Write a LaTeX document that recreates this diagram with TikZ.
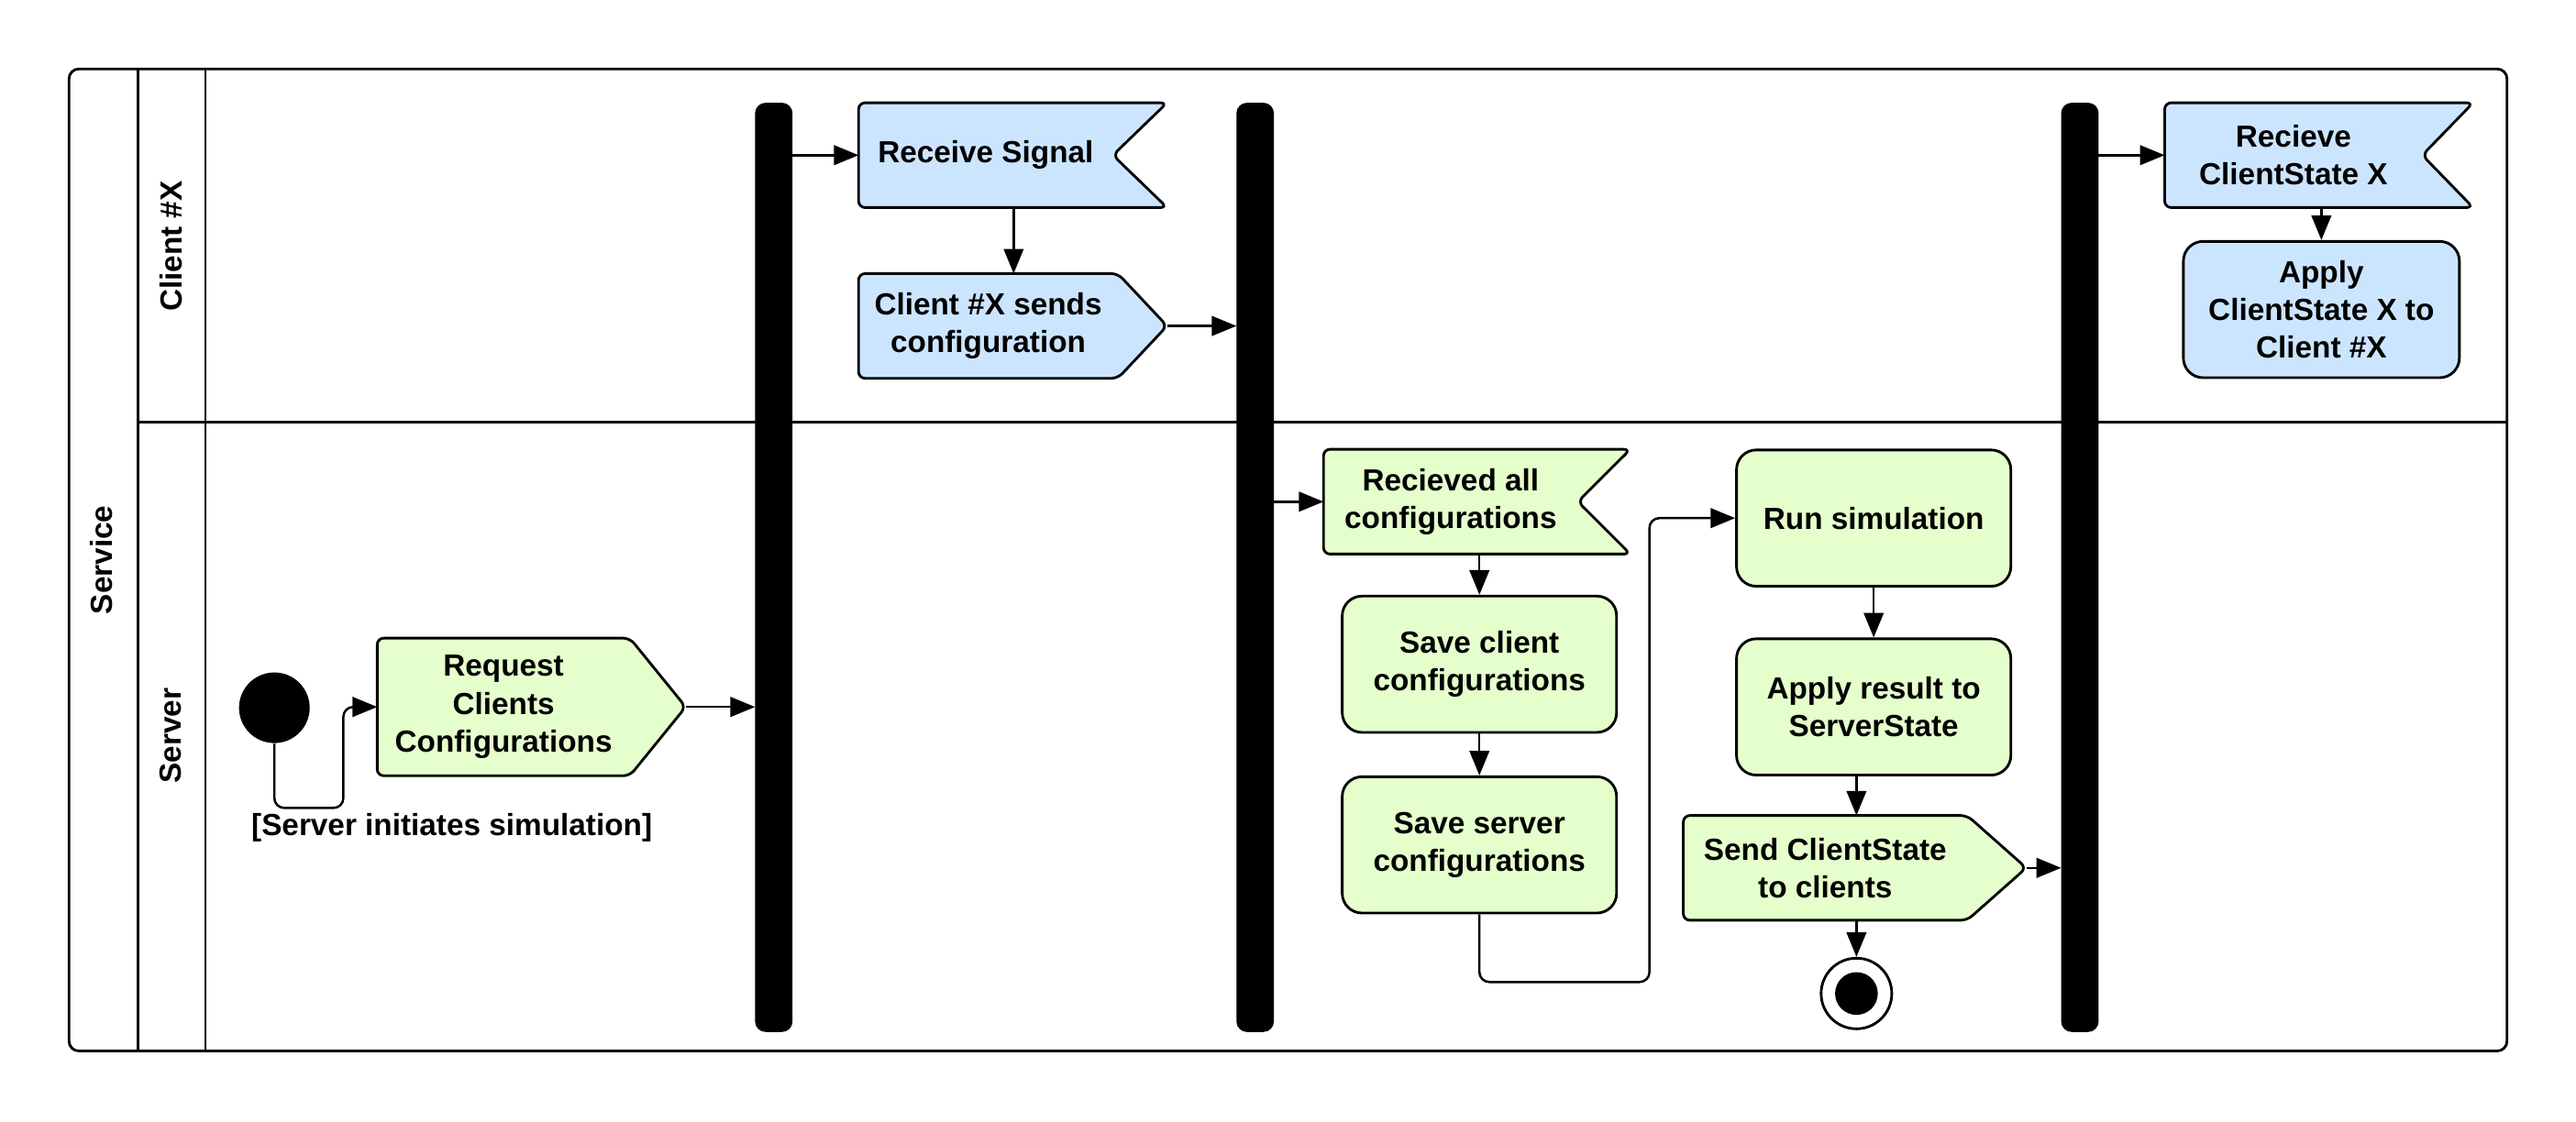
\documentclass[tikz,border=0pt]{standalone}
\usepackage{fontspec}
\setmainfont{Liberation Sans}
\usetikzlibrary{arrows.meta,calc,backgrounds}
\definecolor{cblue}{RGB}{204,229,255}
\definecolor{cgreen}{RGB}{229,255,204}
\begin{document}
\begin{tikzpicture}[x=0.5pt,y=-0.5pt,
  txt/.style={font=\bfseries\fontsize{9.3}{11.5}\selectfont, align=center, inner sep=0pt},
  ln/.style={line width=0.8pt},
  act/.style={txt, draw, ln, rounded corners=6pt, minimum width=#1, minimum height=41.5pt},
  sig/.style={txt, minimum height=31.5pt},
  shp/.style={draw, ln, rounded corners=2pt},
  bar/.style={fill=black, draw=black, rounded corners=3pt, minimum width=11pt, minimum height=282.5pt, inner sep=0pt},
  conn/.style={line width=0.7pt, -{Triangle[length=7.5pt,width=6pt]}, rounded corners=3pt},
  lanelbl/.style={txt, rotate=90}
]
\useasboundingbox (0,0) rectangle (1568,683);

% swimlanes
\draw[ln, rounded corners=3pt] (42,42) rectangle (1526,640);
\draw[ln] (84,42) -- (84,640);
\draw[ln] (125,42) -- (125,640);
\draw[ln] (84,257) -- (1526,257);
\node[lanelbl] (lsvc) at (62,341) {Service};
\node[lanelbl] (lcli) at (104,150) {Client \#X};
\node[lanelbl] (lsrv) at (104,448) {Server};

% bars
\node[bar] (bar1) at (471,345.5) {};
\node[bar] (bar2) at (764,345.5) {};
\node[bar] (bar3) at (1266,345.5) {};

% client lane
\node[sig, minimum width=77pt] (rsig) at (600,94.5) {Receive Signal};
\node[sig, minimum width=78.5pt] (csend) at (601.5,198.5) {Client \#X sends\\configuration};
\coordinate (cstip) at ($(csend.east)+(30,0)$);
\node[sig, minimum width=78pt] (rcs) at (1396,94.5) {Recieve\\ClientState X};
\node[act=84pt, fill=cblue] (acs) at (1413,188.5) {Apply\\ClientState X to\\Client \#X};

% server lane
\node[circle, fill=black, minimum size=21.5pt, inner sep=0pt] (init) at (167,431) {};
\node[txt, minimum width=76.5pt, minimum height=41.5pt] (req) at (306.5,430.5) {Request\\Clients\\Configurations};
\coordinate (reqtip) at ($(req.east)+(34,0)$);
\node[sig, minimum width=77pt] (rac) at (883,305.5) {Recieved all\\configurations};
\node[act=83.5pt, fill=cgreen] (scc) at (900.5,404.5) {Save client\\configurations};
\node[act=83.5pt, fill=cgreen] (ssc) at (900.5,514.5) {Save server\\configurations};
\node[act=83.5pt, fill=cgreen] (run) at (1140.5,315.5) {Run simulation};
\node[act=83.5pt, fill=cgreen] (ars) at (1140.5,430.5) {Apply result to\\ServerState};
\node[txt, minimum width=86pt, minimum height=31.5pt] (scs) at (1111,528.5) {Send ClientState\\to clients};
\coordinate (scstip) at ($(scs.east)+(36,0)$);
\node[circle, draw, ln, fill=white, minimum size=21.5pt, inner sep=0pt] (fin) at (1130,605) {};
\node[circle, fill=black, minimum size=13pt, inner sep=0pt] (finin) at (fin) {};
\node[txt] (guard) at (275,504) {[Server initiates simulation]};

% signal shapes
\begin{scope}[on background layer]
\draw[shp, fill=cblue] (rsig.north west) -- ($(rsig.north east)+(33,0)$) -- (rsig.east) -- ($(rsig.south east)+(33,0)$) -- (rsig.south west) -- cycle;
\draw[shp, fill=cblue] (csend.north west) -- (csend.north east) -- (cstip) -- (csend.south east) -- (csend.south west) -- cycle;
\draw[shp, fill=cblue] (rcs.north west) -- ($(rcs.north east)+(31,0)$) -- (rcs.east) -- ($(rcs.south east)+(31,0)$) -- (rcs.south west) -- cycle;
\draw[shp, fill=cgreen] (req.north west) -- (req.north east) -- (reqtip) -- (req.south east) -- (req.south west) -- cycle;
\draw[shp, fill=cgreen] (rac.north west) -- ($(rac.north east)+(32,0)$) -- (rac.east) -- ($(rac.south east)+(32,0)$) -- (rac.south west) -- cycle;
\draw[shp, fill=cgreen] (scs.north west) -- (scs.north east) -- (scstip) -- (scs.south east) -- (scs.south west) -- cycle;
\end{scope}

% connectors
\coordinate (g1) at (209,492);
\draw[conn] (init.south) |- (g1) |- (req.west);
\draw[conn] (reqtip) -- (reqtip -| bar1.west);
\draw[conn] (rsig.west -| bar1.east) -- (rsig.west);
\coordinate (rsigb) at ($(rsig.south)+(17,0)$);
\draw[conn] (rsigb) -- (rsigb |- csend.north);
\draw[conn] (cstip) -- (cstip -| bar2.west);
\draw[conn] (rac.west -| bar2.east) -- (rac.west);
\draw[conn] (scc.north |- rac.south) -- (scc.north);
\draw[conn] (scc.south) -- (ssc.north);
\coordinate (g2) at (1004,598);
\draw[conn] (ssc.south) |- (g2) |- (run.west);
\draw[conn] (run.south) -- (ars.north);
\draw[conn] (fin.north |- ars.south) -- (fin.north |- scs.north);
\draw[conn] (scstip) -- (scstip -| bar3.west);
\draw[conn] (fin.north |- scs.south) -- (fin.north);
\draw[conn] (rcs.west -| bar3.east) -- (rcs.west);
\draw[conn] (acs.north |- rcs.south) -- (acs.north);
\end{tikzpicture}
\end{document}
